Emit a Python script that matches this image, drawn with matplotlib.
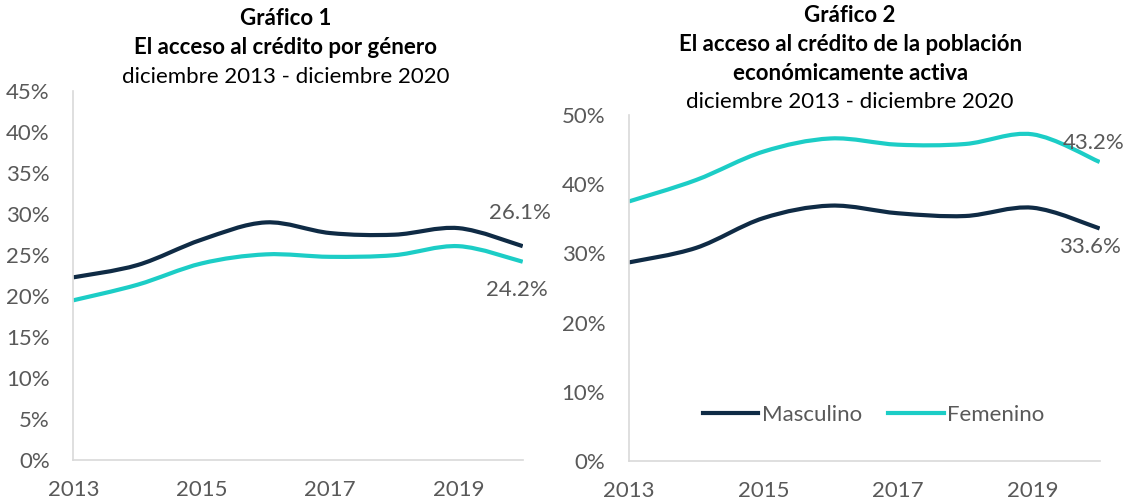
import numpy as np
import matplotlib.pyplot as plt
from matplotlib.path import Path
from matplotlib.patches import PathPatch
from matplotlib.lines import Line2D
from matplotlib.ticker import PercentFormatter

plt.rcParams['font.family'] = ['Lato', 'DejaVu Sans']

# datos
anios = [2013, 2014, 2015, 2016, 2017, 2018, 2019, 2020]
g1_masc = [22.3, 23.8, 26.9, 29.0, 27.7, 27.5, 28.3, 26.1]
g1_fem = [19.5, 21.4, 24.0, 25.1, 24.8, 25.0, 26.1, 24.2]
g2_masc = [28.7, 30.8, 35.1, 36.9, 35.8, 35.4, 36.6, 33.6]
g2_fem = [37.5, 40.6, 44.7, 46.6, 45.7, 45.8, 47.2, 43.2]
etiquetas_x = [2013, 2015, 2017, 2019]

c_masc = '#0f2b45'
c_fem = '#1ccdc6'
gris = '#595959'
fs = 16


def curva_suave(ax, x, y, color):
    # curva de Bezier tipo Excel (suavizado) que pasa por los puntos
    pts = np.column_stack([np.asarray(x, float), np.asarray(y, float)])
    verts = [pts[0]]
    codes = [Path.MOVETO]
    n = len(pts)
    for i in range(n - 1):
        p0 = pts[max(i - 1, 0)]
        p1 = pts[i]
        p2 = pts[i + 1]
        p3 = pts[min(i + 2, n - 1)]
        verts += [p1 + (p2 - p0) / 6.0, p2 - (p3 - p1) / 6.0, p2]
        codes += [Path.CURVE4] * 3
    ax.add_patch(PathPatch(Path(verts, codes), fill=False, edgecolor=color,
                           lw=3, capstyle='butt'))


def estilo(ax, ymax, paso):
    ax.set_xlim(2013, 2020)
    ax.set_ylim(0, ymax)
    ax.set_yticks(np.arange(0, ymax + 0.1, paso))
    ax.yaxis.set_major_formatter(PercentFormatter(decimals=0))
    ax.set_xticks(etiquetas_x)
    ax.tick_params(length=0, labelsize=fs, colors=gris)
    ax.tick_params(axis='y', pad=17)
    ax.tick_params(axis='x', pad=14)
    for s in ['top', 'right']:
        ax.spines[s].set_visible(False)
    for s in ['left', 'bottom']:
        ax.spines[s].set_color('#d9d9d9')
        ax.spines[s].set_linewidth(1.2)


def etiqueta(ax, x, y, dx, dy):
    ax.annotate(f'{y:.1f}%', (x, y), xytext=(dx, dy), textcoords='offset pixels',
                ha='center', va='center', fontsize=fs, color=gris)


fig = plt.figure(figsize=(11.29, 5.04), dpi=100)
ax1 = fig.add_axes([0.065, 0.087, 0.398, 0.732])
ax2 = fig.add_axes([0.557, 0.085, 0.417, 0.687])

# Grafico 1
curva_suave(ax1, anios, g1_masc, c_masc)
curva_suave(ax1, anios, g1_fem, c_fem)
estilo(ax1, 45, 5)
etiqueta(ax1, anios[-1], g1_masc[-1], -3, 33)
etiqueta(ax1, anios[-1], g1_fem[-1], -6, -28)

# Grafico 2
curva_suave(ax2, anios, g2_masc, c_masc)
curva_suave(ax2, anios, g2_fem, c_fem)
estilo(ax2, 50, 10)
etiqueta(ax2, anios[-1], g2_fem[-1], -6, 19)
etiqueta(ax2, anios[-1], g2_masc[-1], -10, -19)
handles = [Line2D([], [], color=c_masc, lw=3), Line2D([], [], color=c_fem, lw=3)]
ax2.legend(handles, ['Masculino', 'Femenino'], loc='center', bbox_to_anchor=(0.52, 0.133),
           ncol=2, frameon=False, fontsize=fs, labelcolor=gris,
           handlelength=2.5, handletextpad=0.15, columnspacing=1.2)

# titulos
fig.text(0.253, 0.964, 'Gráfico 1', ha='center', va='center', fontsize=fs, fontweight='bold')
fig.text(0.253, 0.905, 'El acceso al crédito por género', ha='center', va='center',
         fontsize=fs, fontweight='bold')
fig.text(0.253, 0.847, 'diciembre 2013 - diciembre 2020', ha='center', va='center', fontsize=fs)

fig.text(0.753, 0.970, 'Gráfico 2', ha='center', va='center', fontsize=fs, fontweight='bold')
fig.text(0.753, 0.911, 'El acceso al crédito de la población', ha='center', va='center',
         fontsize=fs, fontweight='bold')
fig.text(0.753, 0.855, 'económicamente activa', ha='center', va='center',
         fontsize=fs, fontweight='bold')
fig.text(0.753, 0.798, 'diciembre 2013 - diciembre 2020', ha='center', va='center', fontsize=fs)

fig.savefig('out.png', dpi=100)
